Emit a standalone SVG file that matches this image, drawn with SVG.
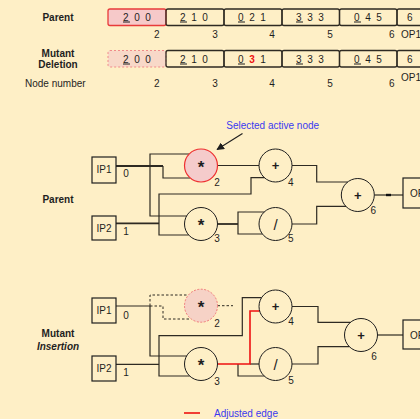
<svg xmlns="http://www.w3.org/2000/svg" width="420" height="419" viewBox="0 0 420 419">
  <defs>
    <style>
      text { font-family: "Liberation Sans", Arial, sans-serif; font-size: 10px; fill: #1e1e1e; }
      .b { font-weight: bold; }
      .bi { font-weight: bold; font-style: italic; }
      .blue { fill: #3a3af0; }
      .mid { text-anchor: middle; }
      .op { font-size: 13px; font-weight: bold; text-anchor: middle; }
      .star { font-size: 17px; }
      .slash { font-size: 15px; font-weight: normal; }
      .gene { letter-spacing: 1.4px; }
      .ul { text-decoration: underline; }
      .cell { fill: none; stroke: #2e2a22; stroke-width: 1.3; }
      .cell-sel { fill: #f6c9c9; stroke: #e83a3a; stroke-width: 1.3; }
      .cell-del { fill: #f8d8c8; stroke: #f08a8a; stroke-width: 1; stroke-dasharray: 2 2; }
      .box { fill: none; stroke: #1e1e1e; stroke-width: 1.2; }
      .fn { fill: none; stroke: #1e1e1e; stroke-width: 1; }
      .fn-sel { fill: #f5cbcb; stroke: #ee3030; stroke-width: 1.2; }
      .fn-del { fill: #f6d2c6; stroke: #f07878; stroke-width: 1; stroke-dasharray: 2 1.5; }
      .w { fill: none; stroke: #2e2a22; stroke-width: 1.2; }
      .wt { stroke-width: 1.8; }
      .wd { stroke-dasharray: 2.5 2; stroke-width: 1; }
      .wr { fill: none; stroke: #ee1111; stroke-width: 1.6; }
    </style>
    <marker id="ah" viewBox="0 0 10 10" refX="9" refY="5" markerWidth="7" markerHeight="7" orient="auto">
      <path d="M0,0 L10,5 L0,10 z" fill="#1e1e1e"/>
    </marker>
  </defs>

  <rect x="0" y="0" width="420" height="419" fill="#feefc6"/>

  <!-- chromosome table -->
  <g id="table-labels">
    <text class="b mid" x="58" y="20.5">Parent</text>
    <text class="b mid" x="58" y="56.5">Mutant</text>
    <text class="b mid" x="58" y="68">Deletion</text>
    <text x="25" y="87">Node number</text>
  </g>

  <g id="parent-row">
    <rect class="cell-sel" x="108" y="9" width="58" height="16.5" rx="2"/>
    <rect class="cell" x="166" y="9" width="58" height="16.5" rx="2"/>
    <rect class="cell" x="224" y="9" width="58" height="16.5" rx="2"/>
    <rect class="cell" x="282" y="9" width="57.5" height="16.5" rx="2"/>
    <rect class="cell" x="339.5" y="9" width="57.5" height="16.5" rx="2"/>
    <rect class="cell" x="397" y="9" width="40" height="16.5" rx="2"/>
    <text class="gene" x="123" y="20.5"><tspan class="ul">2</tspan> 0 0</text>
    <text class="gene" x="180" y="20.5"><tspan class="ul">2</tspan> 1 0</text>
    <text class="gene" x="238" y="20.5"><tspan class="ul">0</tspan> 2 1</text>
    <text class="gene" x="296" y="20.5"><tspan class="ul">3</tspan> 3 3</text>
    <text class="gene" x="354" y="20.5"><tspan class="ul">0</tspan> 4 5</text>
    <text x="407" y="20.5">6</text>
    <text class="mid" x="156.7" y="37.5">2</text>
    <text class="mid" x="215" y="37.5">3</text>
    <text class="mid" x="272" y="37.5">4</text>
    <text class="mid" x="330" y="37.5">5</text>
    <text class="mid" x="391.7" y="37.5">6</text>
    <text x="401" y="37.5">OP1</text>
  </g>

  <g id="mutant-row">
    <rect class="cell-del" x="108" y="50.5" width="58" height="16.5" rx="2"/>
    <rect class="cell" x="166" y="50.5" width="58" height="16.5" rx="2"/>
    <rect class="cell" x="224" y="50.5" width="58" height="16.5" rx="2"/>
    <rect class="cell" x="282" y="50.5" width="57.5" height="16.5" rx="2"/>
    <rect class="cell" x="339.5" y="50.5" width="57.5" height="16.5" rx="2"/>
    <rect class="cell" x="397" y="50.5" width="40" height="16.5" rx="2"/>
    <text class="gene" x="123" y="62.5"><tspan class="ul">2</tspan> 0 0</text>
    <text class="gene" x="180" y="62.5"><tspan class="ul">2</tspan> 1 0</text>
    <text class="gene" x="238" y="62.5"><tspan class="ul">0</tspan> <tspan class="b" fill="#ee1111">3</tspan> 1</text>
    <text class="gene" x="296" y="62.5"><tspan class="ul">3</tspan> 3 3</text>
    <text class="gene" x="354" y="62.5"><tspan class="ul">0</tspan> 4 5</text>
    <text x="407" y="62.5">6</text>
    <text class="mid" x="156.7" y="87">2</text>
    <text class="mid" x="215" y="87">3</text>
    <text class="mid" x="272" y="87">4</text>
    <text class="mid" x="330" y="87">5</text>
    <text class="mid" x="391.7" y="87">6</text>
    <text x="401" y="81">OP1</text>
  </g>

  <!-- parent graph -->
  <text class="b mid" x="58" y="202.5">Parent</text>

  <g id="parent-edges">
    <polyline class="w wt" points="116,166 163,166"/>
    <polyline class="w" points="163,166 163,178 190.2,178"/>
    <polyline class="w" points="189,154 150,154 150,216 186.6,216"/>
    <polyline class="w wt" points="116,223.3 159,223.3"/>
    <polyline class="w" points="264.4,177.7 251,177.7 251,194 159,194 159,235 188.7,235"/>
    <polyline class="w" points="217.5,165.5 259,165.5"/>
    <polyline class="w wt" points="217.5,224 238,224"/>
    <polyline class="w" points="264.2,212 238,212 238,234 262.4,234"/>
    <polyline class="w" points="292,165.5 316.7,165.5 316.7,182 347.8,182"/>
    <polyline class="w" points="292,224 316.7,224 316.7,206.3 346,206.3"/>
    <polyline class="w" points="374.5,195 403,195"/>
    <line x1="386" y1="195" x2="391" y2="195" stroke="#111" stroke-width="2.4"/>
  </g>

  <g id="p-ip1"><rect class="box" x="92" y="157" width="24" height="26"/><text class="mid" x="104" y="173">IP1</text><text class="mid" x="126" y="176.6">0</text></g>
  <g id="p-ip2"><rect class="box" x="92" y="216" width="24" height="24"/><text class="mid" x="104" y="231.5">IP2</text><text class="mid" x="126" y="235.3">1</text></g>
  <g id="p-n2"><circle class="fn-sel" cx="201" cy="165.5" r="16.5"/><text class="op star" x="201" y="172.5">*</text><text class="mid" x="217" y="185.9">2</text></g>
  <g id="p-n3"><circle class="fn" cx="201" cy="224" r="16.5"/><text class="op star" x="201" y="231">*</text><text class="mid" x="217" y="241.9">3</text></g>
  <g id="p-n4"><circle class="fn" cx="275.5" cy="165.5" r="16.5"/><text class="op" x="275.5" y="170">+</text><text class="mid" x="290.7" y="185.9">4</text></g>
  <g id="p-n5"><circle class="fn" cx="275.5" cy="224" r="16.5"/><text class="op slash" x="275.5" y="229.5">/</text><text class="mid" x="290.7" y="241.9">5</text></g>
  <g id="p-n6"><circle class="fn" cx="357.8" cy="195" r="16.5"/><text class="op" x="357.8" y="199.5">+</text><text class="mid" x="373.3" y="213.6">6</text></g>
  <g id="p-op"><rect class="box" x="403" y="178" width="30" height="30"/><text x="410" y="197">OP1</text></g>

  <g id="callout">
    <text class="blue mid" x="272.7" y="128.5">Selected active node</text>
    <line x1="242.5" y1="133.5" x2="217" y2="149.5" stroke="#1e1e1e" stroke-width="1.1" marker-end="url(#ah)"/>
  </g>

  <!-- mutant graph -->
  <text class="b mid" x="58" y="336.5">Mutant</text>
  <text class="bi mid" x="58" y="349.5">Insertion</text>

  <g id="mutant-edges">
    <polyline class="w" points="116,306 150,306"/>
    <polyline class="w wd" points="150,306 163,306 163,319 191,319"/>
    <polyline class="w wd" points="150,306 150,295 188.4,295"/>
    <polyline class="w wd" points="217.5,305.7 233,305.7"/>
    <polyline class="w" points="150,306 150,356 186.6,356"/>
    <polyline class="w" points="116,364.3 159,364.3"/>
    <polyline class="w" points="261.5,297.7 242.3,297.7 242.3,335.7 159,335.7 159,376 189.7,376"/>
    <polyline class="w" points="250,364 259,364"/>
    <polyline class="w" points="238,364 238,376 264.2,376"/>
    <polyline class="w" points="292,306.5 318,306.5 318,322.3 350.5,322.3"/>
    <polyline class="w" points="292,364 318,364 318,346.7 349.4,346.7"/>
    <polyline class="w" points="377.5,335 403,335"/>
    <polyline class="wr" points="217.5,364 250,364 250,311 259.6,311"/>
  </g>

  <g id="m-ip1"><rect class="box" x="92" y="298" width="24" height="25"/><text class="mid" x="104" y="314">IP1</text><text class="mid" x="126" y="318.6">0</text></g>
  <g id="m-ip2"><rect class="box" x="92" y="356" width="24" height="25"/><text class="mid" x="104" y="372">IP2</text><text class="mid" x="126" y="375.9">1</text></g>
  <g id="m-n2"><circle class="fn-del" cx="201" cy="305.7" r="16.5"/><text class="op star" x="201" y="312.7" fill="#ee1111">*</text><text class="mid" x="217" y="326.6">2</text></g>
  <g id="m-n3"><circle class="fn" cx="201" cy="364" r="16.5"/><text class="op star" x="201" y="371">*</text><text class="mid" x="217" y="384.6">3</text></g>
  <g id="m-n4"><circle class="fn" cx="275.5" cy="306.5" r="16.5"/><text class="op" x="275.5" y="311">+</text><text class="mid" x="291" y="325.3">4</text></g>
  <g id="m-n5"><circle class="fn" cx="275.5" cy="364" r="16.5"/><text class="op slash" x="275.5" y="369.5">/</text><text class="mid" x="291" y="383.6">5</text></g>
  <g id="m-n6"><circle class="fn" cx="361" cy="335" r="16.5"/><text class="op" x="361" y="339.5">+</text><text class="mid" x="374" y="359.6">6</text></g>
  <g id="m-op"><rect class="box" x="403" y="320" width="30" height="29"/><text x="410" y="338.5">OP1</text></g>

  <g id="legend">
    <line x1="184" y1="413" x2="200" y2="413" stroke="#ee1111" stroke-width="1.6"/>
    <text class="blue" x="214" y="416.5">Adjusted edge</text>
  </g>
</svg>
